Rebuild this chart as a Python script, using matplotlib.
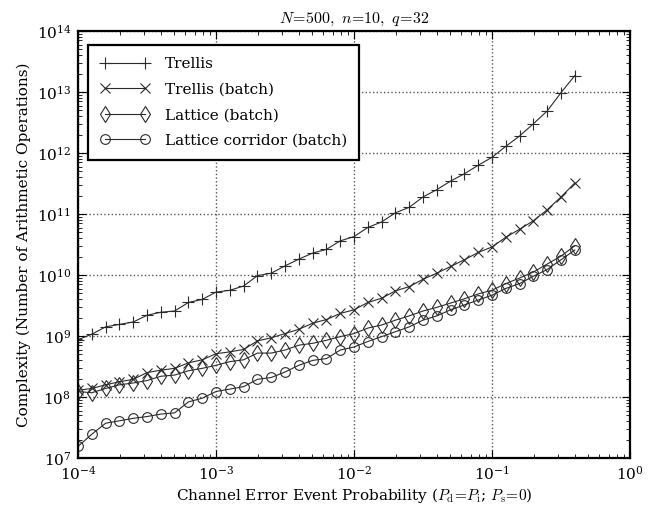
import numpy as np
import matplotlib
matplotlib.use("Agg")
import matplotlib.pyplot as plt

# probabilidad de error del canal: exponentes de 10 (-4.0 ... -0.4, paso 0.1)
log_p = [-4.0, -3.9, -3.8, -3.7, -3.6, -3.5, -3.4, -3.3, -3.2, -3.1,
         -3.0, -2.9, -2.8, -2.7, -2.6, -2.5, -2.4, -2.3, -2.2, -2.1,
         -2.0, -1.9, -1.8, -1.7, -1.6, -1.5, -1.4, -1.3, -1.2, -1.1,
         -1.0, -0.9, -0.8, -0.7, -0.6, -0.5, -0.4]

# log10 de la complejidad
trellis = [8.94, 9.03, 9.15, 9.19, 9.23, 9.34, 9.39, 9.41, 9.55, 9.60,
           9.72, 9.75, 9.82, 9.99, 10.03, 10.15, 10.26, 10.36, 10.42, 10.56,
           10.63, 10.78, 10.87, 11.02, 11.11, 11.28, 11.40, 11.54, 11.66, 11.80,
           11.93, 12.11, 12.28, 12.48, 12.69, 12.99, 13.27]
trellis_batch = [8.11, 8.14, 8.20, 8.25, 8.29, 8.40, 8.44, 8.47, 8.56, 8.61,
                 8.71, 8.74, 8.78, 8.92, 8.97, 9.04, 9.11, 9.21, 9.27, 9.37,
                 9.43, 9.55, 9.62, 9.74, 9.81, 9.93, 10.03, 10.14, 10.25, 10.37,
                 10.46, 10.62, 10.75, 10.89, 11.07, 11.28, 11.51]
lattice_batch = [8.09, 8.07, 8.14, 8.20, 8.23, 8.27, 8.34, 8.36, 8.43, 8.47,
                 8.52, 8.58, 8.61, 8.72, 8.72, 8.77, 8.85, 8.88, 8.93, 8.99,
                 9.04, 9.13, 9.18, 9.26, 9.33, 9.41, 9.47, 9.54, 9.61, 9.69,
                 9.75, 9.86, 9.95, 10.05, 10.18, 10.31, 10.48]
lattice_corridor = [7.19, 7.39, 7.57, 7.61, 7.65, 7.68, 7.72, 7.74, 7.92, 7.98,
                    8.09, 8.13, 8.17, 8.29, 8.32, 8.41, 8.52, 8.60, 8.63, 8.77,
                    8.82, 8.91, 8.99, 9.07, 9.15, 9.26, 9.33, 9.43, 9.51, 9.59,
                    9.67, 9.78, 9.86, 9.98, 10.09, 10.25, 10.41]

labels = ["Trellis", "Trellis (batch)", "Lattice (batch)", "Lattice corridor (batch)"]
markers = ["+", "x", "d", "o"]

plt.rcParams["font.family"] = "DejaVu Serif"
plt.rcParams["mathtext.fontset"] = "cm"
plt.rcParams["font.size"] = 11

fig = plt.figure(figsize=(6.53, 5.09), dpi=100)
ax = fig.add_axes([0.1195, 0.1002, 0.8453, 0.8388])

x = 10 ** np.array(log_p)
series = [trellis, trellis_batch, lattice_batch, lattice_corridor]
sizes = [8, 7.5, 8, 7]
for ys, lab, m, ms in zip(series, labels, markers, sizes):
    ax.plot(x, 10 ** np.array(ys), color="#2a2a2a", lw=0.8, marker=m, ms=ms,
            mfc="none", mec="#2a2a2a", mew=0.8, label=lab)

ax.set_xscale("log")
ax.set_yscale("log")
ax.set_xlim(1e-4, 1)
ax.set_ylim(1e7, 1e14)
ax.grid(True, which="major", ls=":", color="#555555", lw=1.0)
ax.tick_params(which="both", direction="in", top=True, right=True)
ax.tick_params(which="major", length=6, pad=5)
ax.tick_params(which="minor", length=3)
for s in ax.spines.values():
    s.set_linewidth(1.6)

ax.set_title(r"$N\!=\!500,\ n\!=\!10,\ q\!=\!32$", fontsize=11.5, pad=6)
ax.set_xlabel(r"Channel Error Event Probability ($P_{\mathrm{d}}\!=\!P_{\mathrm{i}}$; $P_{\mathrm{s}}\!=\!0$)",
              labelpad=2)
ax.set_ylabel("Complexity (Number of Arithmetic Operations)")

leg = ax.legend(loc="upper left", numpoints=2, fancybox=False, framealpha=1,
                borderpad=0.8, handlelength=3.2, handletextpad=1.0,
                labelspacing=0.75, bbox_to_anchor=(0.005, 0.985))
leg.get_frame().set_edgecolor("black")
leg.get_frame().set_linewidth(1.6)

fig.savefig("out.png", facecolor="white")
